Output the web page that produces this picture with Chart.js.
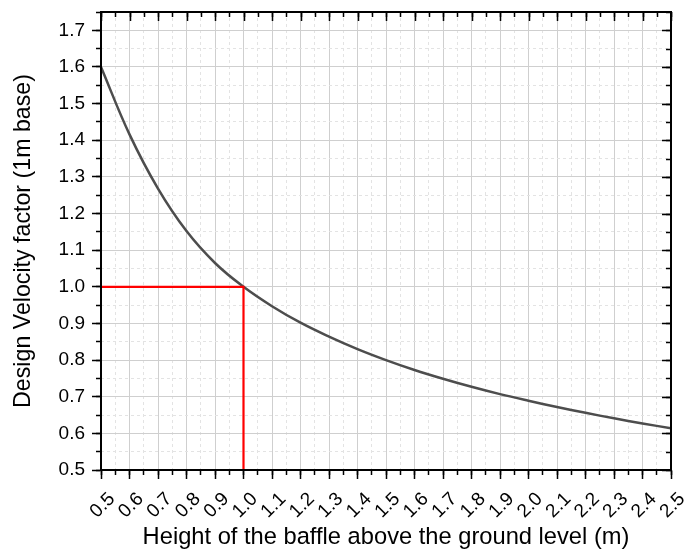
<!DOCTYPE html>
<html>
<head>
<meta charset="utf-8">
<script src="https://cdn.jsdelivr.net/npm/chart.js@4.4.1/dist/chart.umd.min.js"></script>
<style>
  html, body { margin: 0; padding: 0; background: #ffffff; }
  #wrap { width: 686px; height: 552px; }
</style>
</head>
<body>
<div id="wrap"><canvas id="c" width="686" height="552"></canvas></div>
<script>
// ---- data ----
const heights = [0.5, 0.6, 0.7, 0.8, 0.9, 1.0, 1.1, 1.2, 1.3, 1.4, 1.5, 1.6, 1.7, 1.8, 1.9, 2.0, 2.1, 2.2, 2.3, 2.4, 2.5];
const velocityFactor = [1.600, 1.416, 1.268, 1.152, 1.065, 1.000, 0.947, 0.902, 0.864, 0.830, 0.800, 0.773, 0.749, 0.727, 0.707, 0.689, 0.672, 0.656, 0.641, 0.627, 0.614];
const refLineX = [0.5, 1.0, 1.0];
const refLineY = [1.0, 1.0, 0.5];
const xTitle = 'Height of the baffle above the ground level (m)';
const yTitle = 'Design Velocity factor (1m base)';
const xMin = 0.5, xMax = 2.5, xMajor = 0.1, xMinorStep = 0.05;
const yMin = 0.5, yMax = 1.75, yMajor = 0.1, yMinorStep = 0.05;

const FONT = "'Liberation Sans', Arial, Helvetica, sans-serif";

const curvePts = heights.map((h, i) => ({ x: h, y: velocityFactor[i] }));
const refPts = refLineX.map((h, i) => ({ x: h, y: refLineY[i] }));

// draws the inward ticks on top / right edges and the frame, from the library's scales
const framePlugin = {
  id: 'frame',
  afterDraw(chart) {
    const { ctx, chartArea: a, scales } = chart;
    ctx.save();
    ctx.strokeStyle = '#000';
    ctx.lineWidth = 1.5;
    const drawX = (scale, len) => {
      scale.ticks.forEach(t => {
        const px = Math.round(scale.getPixelForValue(t.value)) + 0.5;
        ctx.beginPath(); ctx.moveTo(px, a.top); ctx.lineTo(px, a.top + len); ctx.stroke();
      });
    };
    const drawY = (scale, len) => {
      scale.ticks.forEach(t => {
        const py = Math.round(scale.getPixelForValue(t.value)) + 0.5;
        ctx.beginPath(); ctx.moveTo(a.right, py); ctx.lineTo(a.right - len, py); ctx.stroke();
      });
    };
    drawX(scales.xMinor, 5); drawX(scales.x, 9);
    drawY(scales.yMinor, 5); drawY(scales.y, 9);
    ctx.lineWidth = 2;
    ctx.strokeRect(a.left, a.top, a.right - a.left, a.bottom - a.top);
    ctx.restore();
  }
};

const fmt = v => (Math.abs(v * 10 - Math.round(v * 10)) < 1e-6) ? Number(v).toFixed(1) : '';
const fixX = h => s => { s.height = h; s.paddingLeft = 0; s.paddingRight = 0; };
const fixY = w => s => { s.width = w; s.paddingTop = 0; s.paddingBottom = 0; };

new Chart(document.getElementById('c'), {
  type: 'scatter',
  data: {
    datasets: [
      {
        label: 'factor',
        data: curvePts,
        showLine: true,
        borderColor: '#4d4d4d',
        borderWidth: 2.5,
        pointRadius: 0,
        tension: 0.4,
        fill: false,
        order: 2
      },
      {
        label: 'ref',
        data: refPts,
        showLine: true,
        borderColor: '#ff0000',
        borderWidth: 2.2,
        pointRadius: 0,
        tension: 0,
        fill: false,
        order: 1
      }
    ]
  },
  options: {
    responsive: false,
    animation: false,
    layout: { padding: { left: 0, right: 15, top: 12, bottom: 0 } },
    plugins: { legend: { display: false }, tooltip: { enabled: false } },
    scales: {
      xMinor: {
        type: 'linear', position: 'bottom', weight: 0,
        min: xMin, max: xMax,
        ticks: { display: false, stepSize: xMinorStep },
        grid: { color: '#e3e3e3', lineWidth: 1, tickLength: 5, tickColor: '#000', tickWidth: 1.5 },
        border: { display: false, dash: [3, 3] },
        afterFit: fixX(0)
      },
      x: {
        type: 'linear', position: 'bottom', weight: 1,
        min: xMin, max: xMax,
        ticks: {
          stepSize: xMajor, minRotation: 45, maxRotation: 45, autoSkip: false,
          color: '#000', padding: 9, labelOffset: 11,
          font: { family: FONT, size: 19 },
          callback: v => fmt(v)
        },
        grid: { color: '#cfcfcf', lineWidth: 1, tickLength: 9, tickColor: '#000', tickWidth: 1.5 },
        border: { color: '#000', width: 2 },
        title: { display: true, text: xTitle, color: '#000', font: { family: FONT, size: 23.7 }, padding: { top: 0, bottom: 0 } },
        afterFit: fixX(82)
      },
      yMinor: {
        type: 'linear', position: 'left', weight: 0,
        min: yMin, max: yMax,
        ticks: { display: false, stepSize: yMinorStep },
        grid: { color: '#e3e3e3', lineWidth: 1, tickLength: 5, tickColor: '#000', tickWidth: 1.5 },
        border: { display: false, dash: [3, 3] },
        afterFit: fixY(0)
      },
      y: {
        type: 'linear', position: 'left', weight: 1,
        min: yMin, max: yMax,
        ticks: {
          stepSize: yMajor, includeBounds: false, color: '#000', padding: 7,
          font: { family: FONT, size: 19 },
          callback: v => fmt(v)
        },
        grid: { color: '#cfcfcf', lineWidth: 1, tickLength: 9, tickColor: '#000', tickWidth: 1.5 },
        border: { color: '#000', width: 2 },
        title: { display: true, text: yTitle, color: '#000', font: { family: FONT, size: 23.2 }, padding: { top: 10, bottom: 0 } },
        afterFit: fixY(101)
      }
    }
  },
  plugins: [framePlugin]
});
</script>
</body>
</html>
